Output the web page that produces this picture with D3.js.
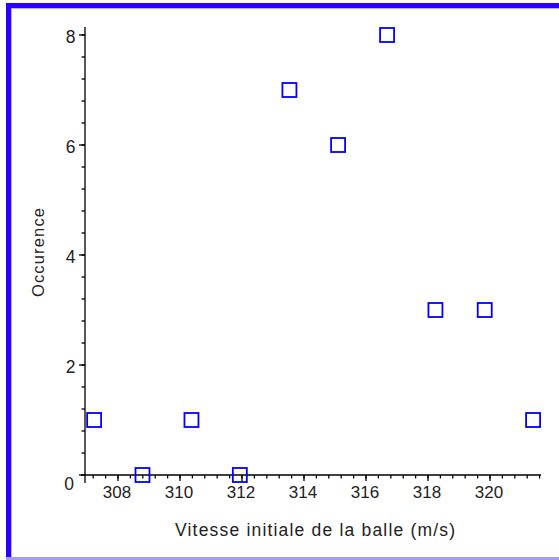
<!DOCTYPE html>
<html>
<head>
<meta charset="utf-8">
<script src="https://cdn.jsdelivr.net/npm/d3@7"></script>
<style>
  html, body { margin: 0; padding: 0; background: #fff; }
  svg { display: block; }
  text { font-family: "Liberation Sans", Arial, sans-serif; fill: #222; }
</style>
</head>
<body>
<div id="chart"></div>
<script>
"use strict";

// bin centres (m/s) and counts
const speeds = [307.23, 308.79, 310.37, 311.93, 313.53, 315.1, 316.68, 318.24, 319.83, 321.39];
const counts = [1, 0, 1, 0, 7, 6, 8, 3, 3, 1];
const xTicks = [308, 310, 312, 314, 316, 318, 320];
const yTicks = [0, 2, 4, 6, 8];
const xLabel = "Vitesse initiale de la balle (m/s)";
const yLabel = "Occurence";

const W = 559, H = 560;
const svg = d3.select("#chart").append("svg").attr("width", W).attr("height", H);

// window frame (left + top in strong blue, bottom edge pale)
const frame = svg.append("g");
frame.append("rect").attr("x", 6).attr("y", 3).attr("width", 5).attr("height", H - 3).attr("fill", "#2a00ff");
frame.append("rect").attr("x", 6).attr("y", 3).attr("width", W - 6).attr("height", 5).attr("fill", "#2a00ff");
frame.append("rect").attr("x", 11).attr("y", 8).attr("width", 1).attr("height", H - 8).attr("fill", "#b8b0ff");
frame.append("rect").attr("x", 11).attr("y", 8).attr("width", W - 11).attr("height", 1).attr("fill", "#b8b0ff");
frame.append("rect").attr("x", 6).attr("y", 557).attr("width", W - 6).attr("height", 3).attr("fill", "#a49cf4");

// scales: 31 px per m/s, 55 px per count
const x = d3.scaleLinear().domain([308, 320]).range([118, 490]);
const y = d3.scaleLinear().domain([0, 8]).range([475, 35]);

const xMin = x.invert(85), xMax = x.invert(541);
const yMax = y.invert(27);

const ax = svg.append("g").attr("stroke", "#000").attr("stroke-width", 1.3).attr("fill", "none");
// axis lines (they overhang each other a little)
ax.append("line").attr("x1", x(xMin) - 4).attr("x2", x(xMax)).attr("y1", y(0)).attr("y2", y(0));
ax.append("line").attr("x1", x(xMin)).attr("x2", x(xMin)).attr("y1", y(yMax)).attr("y2", y(0) + 8);

// x ticks: minor every 0.4, major every 2
const xMinor = d3.range(-4, 35).map(i => 308 + i * 0.4).filter(v => v > xMin + 0.1 && v <= xMax);
ax.selectAll(".xm").data(xMinor).join("line")
  .attr("x1", d => x(d)).attr("x2", d => x(d))
  .attr("y1", y(0)).attr("y2", y(0) + 3.5);
ax.selectAll(".xM").data(xTicks).join("line")
  .attr("x1", d => x(d)).attr("x2", d => x(d))
  .attr("y1", y(0)).attr("y2", y(0) + 6);

// y ticks
const yMinor = d3.range(1, 21).map(i => i * 0.4);
ax.selectAll(".ym").data(yMinor).join("line")
  .attr("x1", x(xMin) - 3.5).attr("x2", x(xMin))
  .attr("y1", d => y(d)).attr("y2", d => y(d));
ax.selectAll(".yM").data(yTicks).join("line")
  .attr("x1", x(xMin) - 6).attr("x2", x(xMin))
  .attr("y1", d => y(d)).attr("y2", d => y(d));

// tick labels
svg.append("g").selectAll("text").data(xTicks).join("text")
  .attr("x", d => x(d) - 1).attr("y", 498)
  .attr("text-anchor", "middle").attr("font-size", 17)
  .text(d => d);
svg.append("g").selectAll("text").data(yTicks).join("text")
  .attr("x", d => d === 0 ? 74 : 75.5)
  .attr("y", d => d === 0 ? y(d) + 14.5 : y(d) + 8)
  .attr("text-anchor", "end").attr("font-size", 17.5)
  .text(d => d);

// axis titles
svg.append("text").attr("x", 175).attr("y", 536)
  .attr("font-size", 17.5)
  .attr("textLength", 280).attr("lengthAdjust", "spacing")
  .text(xLabel);
svg.append("text").attr("transform", "translate(43.5,297) rotate(-90)")
  .attr("font-size", 16.5)
  .attr("textLength", 89).attr("lengthAdjust", "spacing")
  .text(yLabel);

// square markers
svg.append("g").selectAll("rect").data(speeds).join("rect")
  .attr("x", (d, i) => x(d) - 7)
  .attr("y", (d, i) => y(counts[i]) - 7)
  .attr("width", 14).attr("height", 14)
  .attr("fill", "none").attr("stroke", "#0000ff").attr("stroke-width", 1.8);
</script>
</body>
</html>
